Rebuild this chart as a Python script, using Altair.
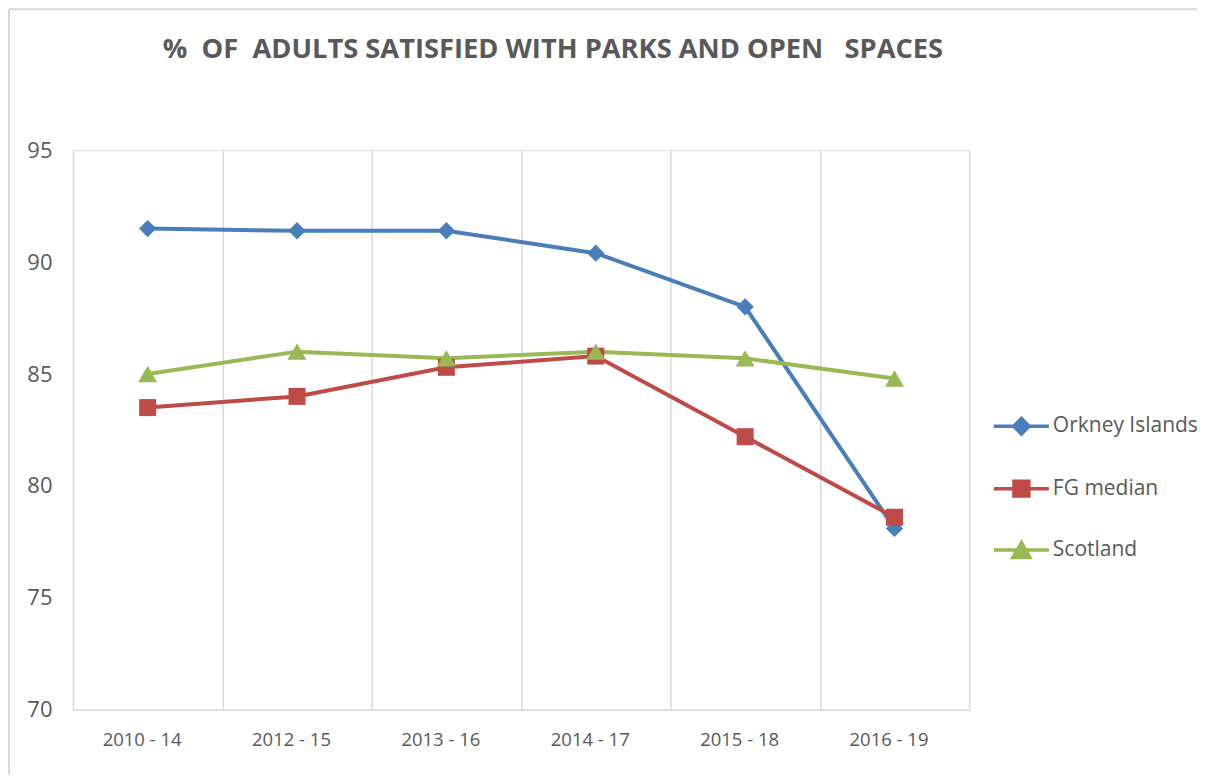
import altair as alt
import pandas as pd

periods = ["2010 - 14", "2012 - 15", "2013 - 16", "2014 - 17", "2015 - 18", "2016 - 19"]
orkney = [91.5, 91.4, 91.4, 90.4, 88.0, 78.1]
fg_median = [83.5, 84.0, 85.3, 85.8, 82.2, 78.6]
scotland = [85.0, 86.0, 85.7, 86.0, 85.7, 84.8]
series_names = ["Orkney Islands", "FG median", "Scotland"]
y_ticks = [70, 75, 80, 85, 90, 95]
title_text = "%\u00a0 OF\u00a0 ADULTS SATISFIED WITH PARKS AND OPEN\u00a0\u00a0 SPACES"

colors = ["#4A7EBB", "#BE4B48", "#98B954"]
markers = ["diamond", "square", "triangle-up"]
marker_sizes = [300, 289, 361]
legend_paths = [
    "M-1,0L1,0M0,-0.28L0.28,0L0,0.28L-0.28,0Z",
    "M-1,0L1,0M-0.27,-0.27L0.27,-0.27L0.27,0.27L-0.27,0.27Z",
    "M-1,0L1,0M0,-0.27L0.31,0.27L-0.31,0.27Z",
]

rows = []
for name, vals in zip(series_names, [orkney, fg_median, scotland]):
    for p, v in zip(periods, vals):
        rows.append({"period": p, "series": name, "value": v})
df = pd.DataFrame(rows)

FONT = "Open Sans"
GRAY = "#595959"
GRID = "#d9d9d9"

x_enc = alt.X(
    "period:N",
    sort=periods,
    scale=alt.Scale(type="band", paddingInner=0, paddingOuter=0),
    axis=alt.Axis(
        title=None,
        tickBand="extent",
        grid=True,
        gridColor=GRID,
        gridWidth=1.5,
        ticks=False,
        tickSize=0,
        domain=True,
        domainColor=GRID,
        domainWidth=1.5,
        labelAngle=0,
        labelFont=FONT,
        labelFontSize=18.5,
        labelColor=GRAY,
        labelPadding=21,
        labelOffset=-6,
    ),
)
y_enc = alt.Y(
    "value:Q",
    scale=alt.Scale(domain=[70, 95], nice=False, zero=False),
    axis=alt.Axis(
        title=None,
        values=y_ticks,
        grid=False,
        ticks=False,
        tickSize=0,
        domain=False,
        labelFont=FONT,
        labelFontSize=22,
        labelColor=GRAY,
        labelPadding=21,
    ),
)

base = alt.Chart(df)

lines = base.mark_line(strokeWidth=4).encode(
    x=x_enc,
    y=y_enc,
    color=alt.Color("series:N", scale=alt.Scale(domain=series_names, range=colors), legend=None),
    detail="series:N",
)

point_layers = []
for name, col, mk, sz in zip(series_names, colors, markers, marker_sizes):
    point_layers.append(
        base.transform_filter(alt.datum.series == name)
        .mark_point(shape=mk, filled=True, size=sz, color=col, opacity=1, strokeWidth=0)
        .encode(x=x_enc, y=y_enc)
    )

leg = alt.Legend(
    title=None,
    orient="none",
    legendX=919.75,
    legendY=246.75,
    padding=0,
    symbolSize=3025,
    symbolStrokeWidth=3.5,
    symbolOpacity=1,
    labelFont=FONT,
    labelFontSize=21,
    labelColor=GRAY,
    labelOffset=2,
    rowPadding=17.5,
)

# hidden layer (clipped away) whose only purpose is to provide the legend
legend_layer = base.mark_point(
    filled=True, size=3025, strokeWidth=3.5, clip=True, opacity=1
).encode(
    x=x_enc,
    y=alt.value(-2000),
    fill=alt.Fill("series:N", scale=alt.Scale(domain=series_names, range=colors), legend=leg),
    stroke=alt.Stroke("series:N", scale=alt.Scale(domain=series_names, range=colors), legend=leg),
    shape=alt.Shape("series:N", scale=alt.Scale(domain=series_names, range=legend_paths), legend=leg),
)

border_data = alt.Data(values=[{"b": 1}])
border_left = alt.Chart(border_data).mark_rule(color=GRID, strokeWidth=2).encode(
    x=alt.value(-64), y=alt.value(-141), y2=alt.value(625)
)
border_top = alt.Chart(border_data).mark_rule(color=GRID, strokeWidth=2).encode(
    x=alt.value(-64), x2=alt.value(1125), y=alt.value(-141)
)

chart = alt.layer(
    border_left, border_top, legend_layer, lines, *point_layers
).properties(
    width=897,
    height=560,
    title=alt.TitleParams(
        text=title_text,
        anchor="start",
        frame="group",
        dx=90,
        offset=-77,
        font=FONT,
        fontSize=27.3,
        fontWeight="bold",
        color=GRAY,
        baseline="alphabetic",
    ),
).configure_view(stroke=None).configure(padding=0, background="white")

chart.save("out.html", embed_options={"renderer": "svg", "actions": False})
